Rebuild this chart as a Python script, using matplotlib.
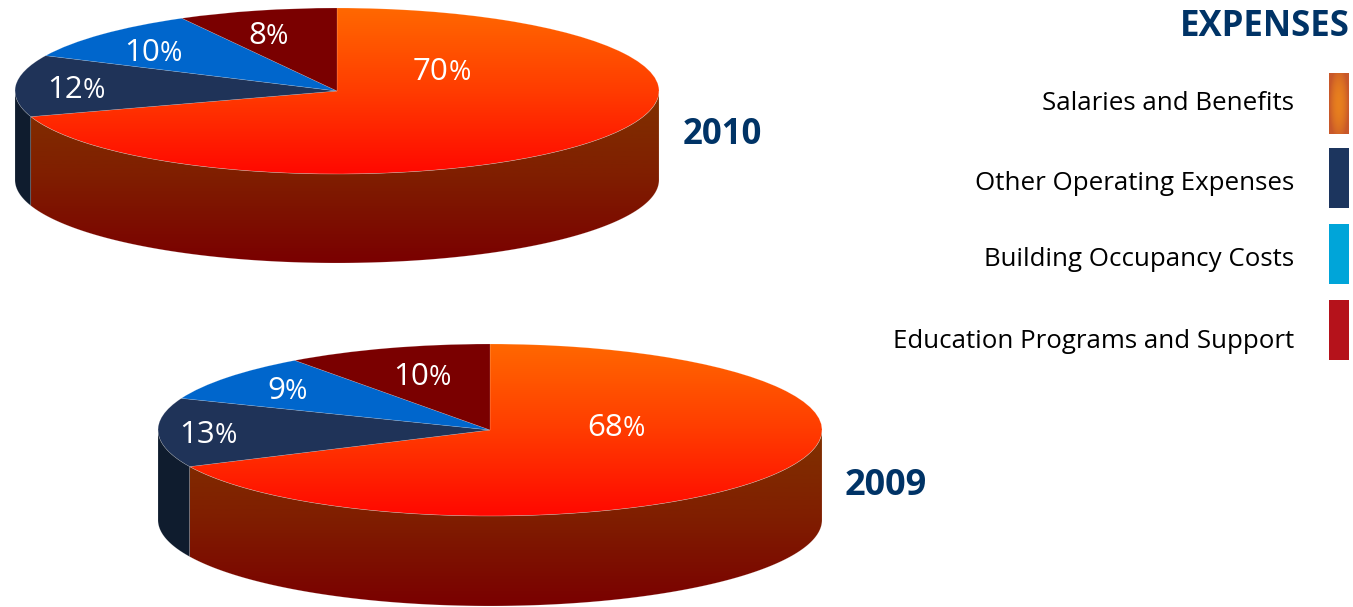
import numpy as np
import matplotlib
matplotlib.use("Agg")
import matplotlib.pyplot as plt
from matplotlib.patches import Rectangle

W, H = 1353, 607

# pie values, order is clockwise from 12 o'clock
values_2010 = [70, 12, 10, 8]
values_2009 = [68, 13, 9, 10]
years = ["2010", "2009"]

legend_title = "EXPENSES"
legend_labels = ["Salaries and Benefits", "Other Operating Expenses",
                 "Building Occupancy Costs", "Education Programs and Support"]

top_colors = [None, "#1f3358", "#0066cc", "#7a0000"]
wall_colors = [None, "#0f1c2e", "#0a3d73", "#4a0000"]
legend_colors = [None, "#1c355e", "#00a5d9", "#b5121b"]

plt.rcParams["font.family"] = ["Open Sans", "DejaVu Sans"]
NAVY = "#003366"
EDGE = (1, 1, 1, 0.25)


def vertical_gradient(stops):
    # stops: list of rgb tuples, top to bottom
    pos = np.linspace(0, 1, 256)
    xp = np.linspace(0, 1, len(stops))
    return np.stack([[np.interp(pos, xp, [s[i] / 255 for s in stops])
                      for i in range(3)]], axis=0)[0].T[:, None, :]


def draw_pie(fig, values, left, right, top, bottom, depth):
    # axes box holds the top ellipse + the wall, limits are in radius units
    ry = (bottom - top) / 2
    ax = fig.add_axes([left / W, 1 - (bottom + depth) / H,
                       (right - left) / W, (bottom + depth - top) / H])
    wedges, _ = ax.pie(values, startangle=90, counterclock=False, radius=1,
                       colors=["none" if c is None else c for c in top_colors],
                       wedgeprops=dict(edgecolor=EDGE, linewidth=0.4))
    ax.set_aspect("auto")
    d = depth / ry

    # gradient top face of the big slice
    top_grad = vertical_gradient([(255, 104, 0), (255, 60, 0), (255, 8, 0)])
    im = ax.imshow(top_grad, extent=(-1, 1, -1, 1), aspect="auto", zorder=0.5)
    im.set_clip_path(wedges[0])
    wedges[0].set_facecolor("none")

    # outer walls, only the part between 180 and 360 deg is visible
    a0 = 90.0
    for i, v in enumerate(values):
        a1 = a0 - v * 3.6
        lo, hi = max(a1, -180), min(a0, 0)
        if lo < hi:
            t = np.deg2rad(np.linspace(lo, hi, 200))
            x, y = np.cos(t), np.sin(t)
            poly = ax.fill(np.r_[x, x[::-1]], np.r_[y, y[::-1] - d],
                           facecolor="none" if wall_colors[i] is None else wall_colors[i],
                           edgecolor=EDGE, linewidth=0.4)[0]
            if wall_colors[i] is None:
                wall_grad = vertical_gradient([(128, 50, 0), (128, 30, 0), (122, 0, 0)])
                im2 = ax.imshow(wall_grad, extent=(-1, 1, -1 - d, 0), aspect="auto", zorder=0.5)
                im2.set_clip_path(poly)
        a0 = a1

    ax.set_xlim(-1, 1)
    ax.set_ylim(-1 - d, 1)
    ax.axis("off")


def pct_label(ax, x, y, number, size=22.5):
    # number is big, the percent sign a bit smaller
    t = ax.text(x, y, number, color="white", fontsize=size, ha="left", va="baseline")
    ax.annotate("%", xy=(1, 0), xycoords=t, xytext=(0, 0), textcoords="offset points",
                color="white", fontsize=size * 0.86, ha="left", va="bottom")


fig = plt.figure(figsize=(W / 100, H / 100), dpi=100, facecolor="white")

draw_pie(fig, values_2010, 15, 659, 8, 174, 89)
draw_pie(fig, values_2009, 158, 822, 344, 516, 90)

# overlay in pixel coords for text and the legend
ov = fig.add_axes([0, 0, 1, 1], facecolor="none")
ov.set_xlim(0, W)
ov.set_ylim(H, 0)
ov.axis("off")

pct_label(ov, 413, 80, str(values_2010[0]))
pct_label(ov, 47, 98, str(values_2010[1]))
pct_label(ov, 124, 61, str(values_2010[2]))
pct_label(ov, 248, 44, str(values_2010[3]))
pct_label(ov, 587, 436, str(values_2009[0]))
pct_label(ov, 179, 443, str(values_2009[1]))
pct_label(ov, 267, 399, str(values_2009[2]))
pct_label(ov, 393, 385, str(values_2009[3]))

ov.text(722, 135, years[0], color=NAVY, fontsize=25, fontweight="bold", ha="center", va="center")
ov.text(886, 486, years[1], color=NAVY, fontsize=26, fontweight="bold", ha="center", va="center")

ov.text(1350, 27, legend_title, color=NAVY, fontsize=25, fontweight="bold", ha="right", va="center")

swatch_top = [73, 148, 224, 300]
label_y = [103, 183, 259, 342]
for i, lab in enumerate(legend_labels):
    ov.text(1294, label_y[i], lab, color="black", fontsize=18.6, ha="right", va="center")
    if legend_colors[i] is None:
        # orange swatch has a soft glow in the middle
        gx, gy = np.meshgrid(np.linspace(-1, 1, 40), np.linspace(-1, 1, 60))
        r = np.clip(np.abs(gx) ** 2 + (gy * 0.8) ** 2, 0, 1)[..., None]
        img = np.array([232, 128, 30]) / 255 * (1 - r) + np.array([200, 88, 42]) / 255 * r
        ov.imshow(img, extent=(1329, 1349, swatch_top[i] + 61, swatch_top[i]), aspect="auto")
    else:
        ov.add_patch(Rectangle((1329, swatch_top[i]), 20, 60, facecolor=legend_colors[i], edgecolor="none"))
ov.set_xlim(0, W)
ov.set_ylim(H, 0)

fig.savefig("out.png", dpi=100, facecolor="white")
